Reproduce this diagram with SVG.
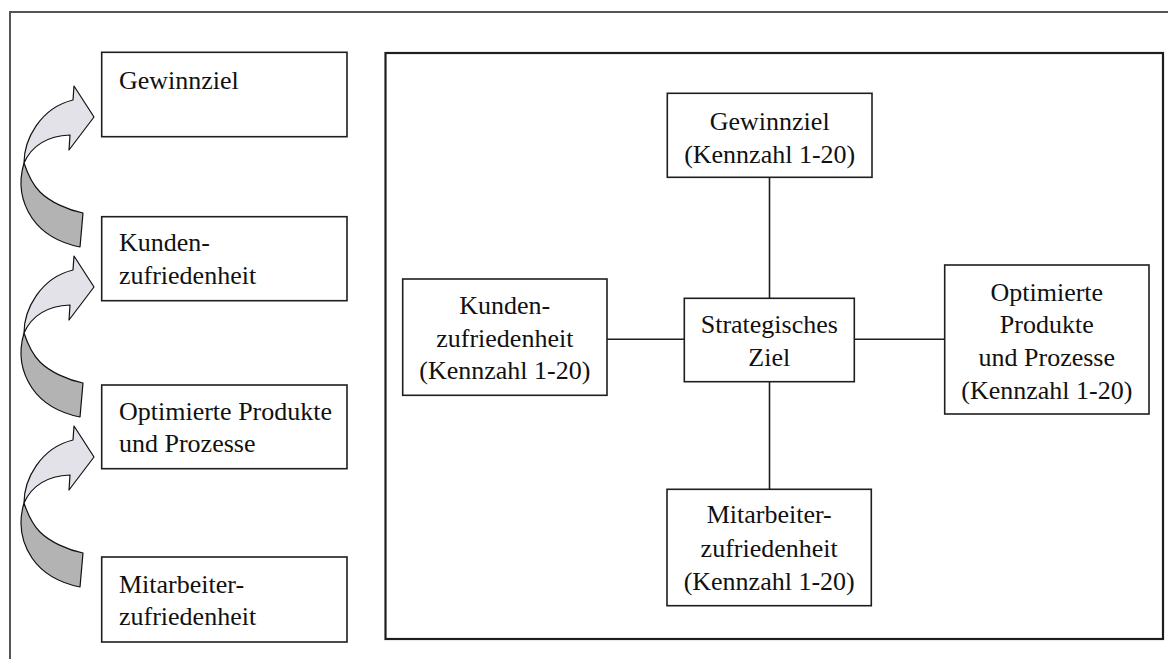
<svg xmlns="http://www.w3.org/2000/svg" width="1168" height="659" viewBox="0 0 1168 659">
<defs>
<style>
.bx{fill:#fff;stroke:#1e1e1e;stroke-width:1.6}
.t{font-family:"Liberation Serif","Times New Roman",serif;font-size:26px;fill:#111}
.c{text-anchor:middle}
.ln{stroke:#1e1e1e;stroke-width:1.6;fill:none}
.dark{fill:#b3b3b3;stroke:#111;stroke-width:1.2;stroke-linejoin:round}
.light{fill:#e2e2e8;stroke:#111;stroke-width:1.2;stroke-linejoin:round}
</style>
<g id="curvedArrow">
<path class="dark" d="M 24,163 C 19,180 20,200 32,218 C 43,234 60,243 80,247 L 83,213 C 68,210 50,202 40,192 C 32,184 28,175 24,163 Z"/>
<path class="light" d="M 24,163 C 24,140 40,108 73,100 L 74,86 L 94,117 L 69,150 L 70,135 C 48,136 32,145 24,163 Z"/>
</g>
</defs>
<rect width="1168" height="659" fill="#fff"/>
<g id="frame">
<path d="M 10,659 L 10,12 L 1168,12" fill="none" stroke="#555" stroke-width="2"/>
<rect x="385.5" y="53" width="777.5" height="586" fill="none" stroke="#1e1e1e" stroke-width="2.2"/>
</g>
<g id="arrows">
<use href="#curvedArrow"/>
<use href="#curvedArrow" transform="translate(0,170)"/>
<use href="#curvedArrow" transform="translate(0,340)"/>
</g>
<g id="left-gewinnziel">
<rect class="bx" x="101.7" y="52.3" width="245.3" height="84.4"/>
<text class="t" x="119" y="89">Gewinnziel</text>
</g>
<g id="left-kunden">
<rect class="bx" x="101.7" y="216.7" width="245.3" height="84"/>
<text class="t" x="119" y="251">Kunden-</text>
<text class="t" x="119" y="284">zufriedenheit</text>
</g>
<g id="left-optimierte">
<rect class="bx" x="101.7" y="385" width="245.3" height="83.7"/>
<text class="t" x="119" y="420">Optimierte Produkte</text>
<text class="t" x="119" y="452">und Prozesse</text>
</g>
<g id="left-mitarbeiter">
<rect class="bx" x="101.7" y="557" width="245.3" height="85"/>
<text class="t" x="119" y="593">Mitarbeiter-</text>
<text class="t" x="119" y="625">zufriedenheit</text>
</g>
<g id="connectors">
<line class="ln" x1="769.5" y1="177.3" x2="769.5" y2="298.3"/>
<line class="ln" x1="769.5" y1="381.7" x2="769.5" y2="489.3"/>
<line class="ln" x1="607" y1="339.3" x2="684.3" y2="339.3"/>
<line class="ln" x1="854.3" y1="339.3" x2="944.7" y2="339.3"/>
</g>
<g id="node-gewinnziel">
<rect class="bx" x="667.3" y="93.3" width="204.7" height="84"/>
<text class="t c" x="769.7" y="130">Gewinnziel</text>
<text class="t c" x="769.7" y="162.7">(Kennzahl 1-20)</text>
</g>
<g id="node-strategisch">
<rect class="bx" x="684.3" y="298.3" width="170" height="83.4"/>
<text class="t c" x="769.3" y="332.7">Strategisches</text>
<text class="t c" x="769.3" y="366">Ziel</text>
</g>
<g id="node-kunden">
<rect class="bx" x="402.7" y="279" width="204.3" height="116.3"/>
<text class="t c" x="504.8" y="314.3">Kunden-</text>
<text class="t c" x="504.8" y="347.3">zufriedenheit</text>
<text class="t c" x="504.8" y="379">(Kennzahl 1-20)</text>
</g>
<g id="node-optimierte">
<rect class="bx" x="944.7" y="265" width="204.3" height="149"/>
<text class="t c" x="1046.8" y="300.7">Optimierte</text>
<text class="t c" x="1046.8" y="333.3">Produkte</text>
<text class="t c" x="1046.8" y="365.7">und Prozesse</text>
<text class="t c" x="1046.8" y="399">(Kennzahl 1-20)</text>
</g>
<g id="node-mitarbeiter">
<rect class="bx" x="667" y="489.3" width="204.3" height="116.4"/>
<text class="t c" x="769.2" y="523.3">Mitarbeiter-</text>
<text class="t c" x="769.2" y="557.3">zufriedenheit</text>
<text class="t c" x="769.2" y="590">(Kennzahl 1-20)</text>
</g>
</svg>
